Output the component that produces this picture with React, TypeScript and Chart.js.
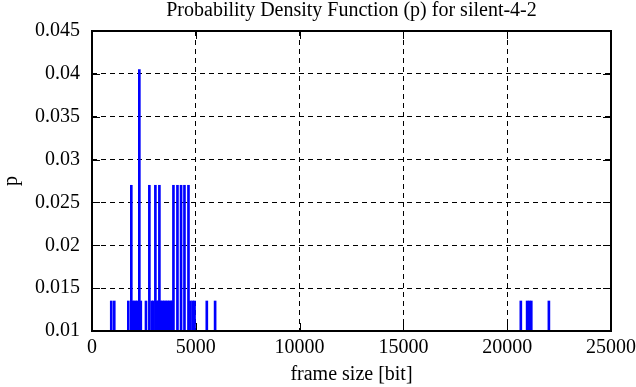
import React, { useEffect, useRef } from "react";
import { Chart, registerables } from "chart.js";

Chart.register(...registerables);

const chartTitle = "Probability Density Function (p) for silent-4-2";
const frameSizes = [
  928, 1072, 1749, 1893, 1950, 2030, 2110, 2190, 2280, 2350, 2600, 2763, 2880, 2950,
  3053, 3130, 3190, 3246, 3320, 3400, 3480, 3560, 3640, 3720, 3800, 3860, 3923, 4116,
  4290, 4454, 4647, 4740, 4850, 4940, 5530, 5930, 20656, 20960, 21060, 21160, 22008,
];
const probabilities = [
  0.0135, 0.0135, 0.0135, 0.027, 0.0135, 0.0135, 0.0135, 0.0135, 0.0405, 0.0135, 0.0135, 0.027, 0.0135, 0.0135,
  0.027, 0.0135, 0.0135, 0.027, 0.0135, 0.0135, 0.0135, 0.0135, 0.0135, 0.0135, 0.0135, 0.0135, 0.027, 0.027,
  0.027, 0.027, 0.027, 0.0135, 0.0135, 0.0135, 0.0135, 0.0135, 0.0135, 0.0135, 0.0135, 0.0135, 0.0135,
];
const xTickValues = [0, 5000, 10000, 15000, 20000, 25000];
const yTickValues = [0.01, 0.015, 0.02, 0.025, 0.03, 0.035, 0.04, 0.045];

const FONT = "'Liberation Serif', 'Times New Roman', serif";

const framePlugin = {
  id: "gnuplotFrame",
  afterDatasetsDraw(chart: any) {
    const { ctx, chartArea } = chart;
    const { left, right, top, bottom } = chartArea;
    const xs = chart.scales.x;
    const ys = chart.scales.y;
    const tl = 8;
    ctx.save();
    ctx.strokeStyle = "#000";
    ctx.lineWidth = 1;
    ctx.beginPath();
    for (const v of yTickValues) {
      const y = Math.round(ys.getPixelForValue(v)) + 0.5;
      ctx.moveTo(left, y);
      ctx.lineTo(left + tl, y);
      ctx.moveTo(right, y);
      ctx.lineTo(right - tl, y);
    }
    for (const v of xTickValues) {
      const x = Math.round(xs.getPixelForValue(v)) + 0.5;
      ctx.moveTo(x, bottom);
      ctx.lineTo(x, bottom - tl);
      ctx.moveTo(x, top);
      ctx.lineTo(x, top + tl);
    }
    ctx.stroke();
    ctx.lineWidth = 2;
    ctx.strokeRect(left, top, right - left, bottom - top);
    ctx.fillStyle = "#000";
    ctx.font = `20px ${FONT}`;
    ctx.textAlign = "center";
    ctx.textBaseline = "alphabetic";
    ctx.fillText(chartTitle, (left + right) / 2, 16);
    ctx.restore();
  },
};

export default function App() {
  const ref = useRef<HTMLCanvasElement | null>(null);
  useEffect(() => {
    if (!ref.current) return;
    const chart = new Chart(ref.current, {
      type: "bar",
      data: {
        datasets: [
          {
            data: frameSizes.map((x, i) => ({ x, y: probabilities[i] })),
            backgroundColor: "#0000ff",
            borderWidth: 0,
            barThickness: 2,
          },
        ],
      },
      plugins: [framePlugin],
      options: {
        animation: false,
        responsive: false,
        devicePixelRatio: 1,
        layout: { padding: { left: 0, right: 25, top: 31, bottom: 0 } },
        plugins: {
          legend: { display: false },
          tooltip: { enabled: false },
          title: { display: false },
        },
        scales: {
          x: {
            type: "linear",
            min: 0,
            max: 25000,
            offset: false,
            afterFit: (s: any) => {
              s.height = 56;
              s.paddingRight = 0;
              s.paddingLeft = 0;
            },
            afterBuildTicks: (s: any) => {
              s.ticks = xTickValues.map((v) => ({ value: v }));
            },
            ticks: {
              color: "#000",
              font: { family: FONT, size: 20 },
              padding: 5,
              maxRotation: 0,
              callback: (v: any) => String(v),
            },
            grid: { color: "#000", lineWidth: 1, drawTicks: false, offset: false },
            border: { display: false, dash: [5, 4] },
            title: {
              display: true,
              text: "frame size [bit]",
              color: "#000",
              font: { family: FONT, size: 20 },
              padding: { top: 0, bottom: 0 },
            },
          },
          y: {
            min: 0.01,
            max: 0.045,
            afterFit: (s: any) => {
              s.width = 92;
            },
            afterBuildTicks: (s: any) => {
              s.ticks = yTickValues.map((v) => ({ value: v }));
            },
            ticks: {
              color: "#000",
              font: { family: FONT, size: 20 },
              padding: 12,
              callback: (v: any) => String(parseFloat(Number(v).toFixed(3))),
            },
            grid: { color: "#000", lineWidth: 1, drawTicks: false },
            border: { display: false, dash: [5, 4] },
            title: {
              display: true,
              text: "p",
              color: "#000",
              font: { family: FONT, size: 20 },
              padding: { top: 0, bottom: 0 },
            },
          },
        },
      },
    });
    return () => chart.destroy();
  }, []);
  return (
    <div style={{ position: "absolute", left: 0, top: 0, width: 636, height: 387, background: "#fff" }}>
      <canvas ref={ref} width={636} height={387} style={{ width: 636, height: 387, display: "block" }} />
    </div>
  );
}
